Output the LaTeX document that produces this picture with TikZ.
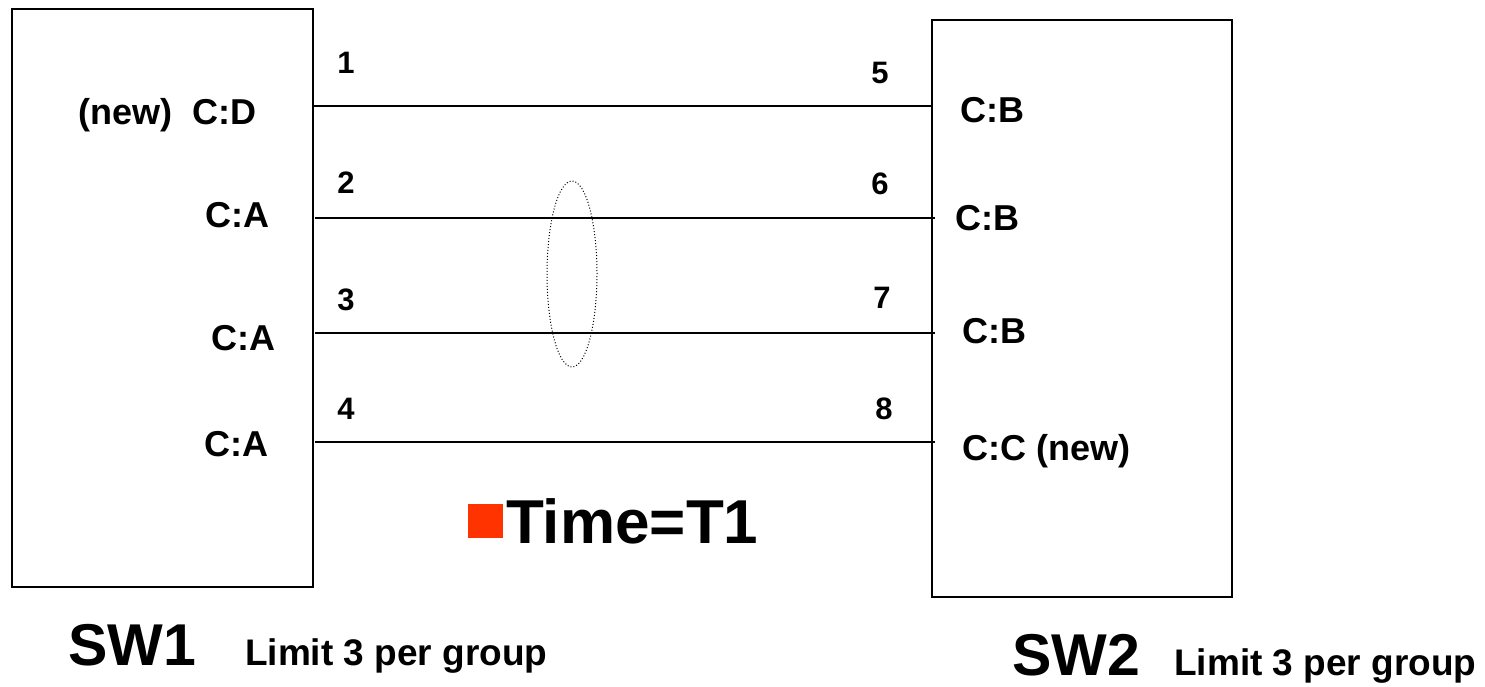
\documentclass[tikz,border=0pt]{standalone}
\usepackage{fontspec}
\setmainfont{Liberation Sans}
\usetikzlibrary{shapes.geometric}
\definecolor{bulletred}{HTML}{FF3300}
\tikzset{
  swbox/.style={draw, line width=1.6pt, inner sep=0pt},
  link/.style={line width=1.6pt},
  lbl/.style={anchor=west, inner sep=0pt, font=\fontsize{36}{40}\selectfont\bfseries},
  num/.style={anchor=center, inner sep=0pt, font=\fontsize{31}{36}\selectfont\bfseries},
  big/.style={anchor=base west, inner sep=0pt, font=\fontsize{59}{64}\selectfont\bfseries},
  small/.style={anchor=base west, inner sep=0pt, font=\fontsize{37}{42}\selectfont\bfseries},
}
\begin{document}
\begin{tikzpicture}[x=1pt,y=-1pt]
\useasboundingbox (0,0) rectangle (1485,687);
% switches
\node[swbox, minimum width=301pt, minimum height=578pt] (sw1) at (162.5,298) {};
\node[swbox, minimum width=300pt, minimum height=577pt] (sw2) at (1082,308.5) {};
% line end points
\coordinate (a1) at (313,106);  \coordinate (b1) at (932,106);
\coordinate (a2) at (315,218);  \coordinate (b2) at (935,218);
\coordinate (a3) at (315,333);  \coordinate (b3) at (935,333);
\coordinate (a4) at (315,442);  \coordinate (b4) at (935,442);
\draw[link] (a1) -- (b1);
\draw[link] (a2) -- (b2);
\draw[link] (a3) -- (b3);
\draw[link] (a4) -- (b4);
% ellipse
\node[draw, ellipse, dotted, line width=1pt, minimum width=50pt, minimum height=186pt, inner sep=0pt] (grp) at (572,274) {};
% left labels
\node[lbl] (l1) at (78,115) {(new)\hspace{20pt}C:D};
\node[lbl] (l2) at (205,215) {C:A};
\node[lbl] (l3) at (211,338) {C:A};
\node[lbl] (l4) at (204,444) {C:A};
% right labels
\node[lbl] (r1) at (960,110) {C:B};
\node[lbl] (r2) at (955,218) {C:B};
\node[lbl] (r3) at (962,331) {C:B};
\node[lbl] (r4) at (962,451) {C:C (new)};
% numbers
\node[num] (n1) at (346,63) {1};
\node[num] (n2) at (346,183) {2};
\node[num] (n3) at (346,300) {3};
\node[num] (n4) at (346,409) {4};
\node[num] (n5) at (880,73) {5};
\node[num] (n6) at (880,184) {6};
\node[num] (n7) at (882,298) {7};
\node[num] (n8) at (884,409) {8};
% time marker
\fill[bulletred] (468,504) rectangle (503,538);
\node[anchor=west, inner sep=0pt, font=\fontsize{62}{68}\selectfont\bfseries] (time) at (506,521) {Time=T1};
% captions
\node[big] (sw1t) at (68,665) {SW1};
\node[small] (lim1) at (245,665) {Limit 3 per group};
\node[big] (sw2t) at (1012,675) {SW2};
\node[small] (lim2) at (1174,675) {Limit 3 per group};
\end{tikzpicture}
\end{document}
